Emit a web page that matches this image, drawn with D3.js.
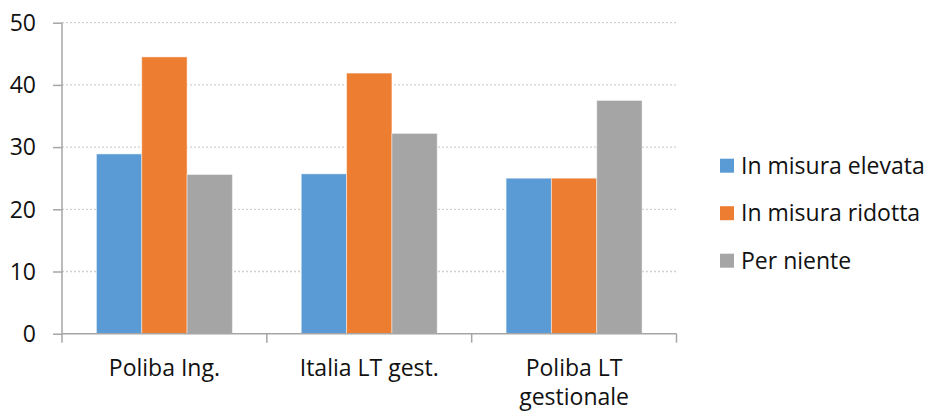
<!DOCTYPE html>
<html>
<head>
<meta charset="utf-8">
<script src="https://cdn.jsdelivr.net/npm/d3@7"></script>
<style>
  html, body { margin: 0; padding: 0; background: #fff; }
  svg text { font-family: "Open Sans", sans-serif; fill: #111; }
</style>
</head>
<body>
<svg id="chart" width="928" height="414"></svg>
<script>
// Categories (line breaks split the label over two lines)
const categories = ["Poliba Ing.", "Italia LT gest.", "Poliba LT\ngestionale"];
const seriesNames = ["In misura elevata", "In misura ridotta", "Per niente"];
const seriesColors = ["#5B9BD5", "#ED7D31", "#A5A5A5"];
// One array per series, in category order (%)
const elevata = [28.9, 25.7, 25.0];
const ridotta = [44.5, 41.9, 25.0];
const perNiente = [25.6, 32.2, 37.5];
const yTicks = [0, 10, 20, 30, 40, 50];

const series = [elevata, ridotta, perNiente];

const svg = d3.select("#chart");
const plot = { left: 62, right: 676.5, top: 22.7, bottom: 333.7 };
const fontSize = 23;

const x0 = d3.scaleBand().domain(categories).range([plot.left, plot.right]).padding(0);
const x1 = d3.scaleBand().domain(seriesNames).range([0, x0.bandwidth()])
  .paddingInner(0).paddingOuter(0.76);
const y = d3.scaleLinear().domain([0, 50]).range([plot.bottom, plot.top]);

// Horizontal gridlines
svg.append("g").selectAll("line").data(yTicks.filter(t => t > 0)).join("line")
  .attr("x1", plot.left).attr("x2", plot.right)
  .attr("y1", d => y(d)).attr("y2", d => y(d))
  .attr("stroke", "#d0d0d0").attr("stroke-width", 1.3)
  .attr("stroke-dasharray", "2,2");

// Bars
const groups = svg.append("g").selectAll("g").data(categories).join("g")
  .attr("transform", c => `translate(${x0(c)},0)`);
groups.selectAll("rect")
  .data((c, i) => seriesNames.map((s, j) => ({ s, j, v: series[j][i] })))
  .join("rect")
  .attr("x", d => x1(d.s))
  .attr("width", x1.bandwidth())
  .attr("y", d => y(d.v))
  .attr("height", d => y(0) - y(d.v))
  .attr("fill", d => seriesColors[d.j])
  .attr("stroke", "rgba(255,255,255,0.45)")
  .attr("stroke-width", 1);

// Y axis
const axisColor = "#a6a6a6";
const yAxis = svg.append("g").attr("transform", `translate(${plot.left},0)`)
  .call(d3.axisLeft(y).tickValues(yTicks).tickSize(9).tickPadding(17).tickFormat(d3.format("d")));
yAxis.select(".domain").attr("stroke", axisColor).attr("stroke-width", 1.5)
  .attr("d", `M0,${plot.top}V${plot.bottom}`);
yAxis.selectAll(".tick line").attr("stroke", axisColor).attr("stroke-width", 1.5);
yAxis.selectAll(".tick text").attr("font-size", fontSize).attr("fill", "#111")
  .attr("font-family", "'Open Sans', sans-serif").attr("dy", "0.34em");

// X axis line and category separators
const xg = svg.append("g");
xg.append("line").attr("x1", plot.left).attr("x2", plot.right)
  .attr("y1", plot.bottom).attr("y2", plot.bottom)
  .attr("stroke", axisColor).attr("stroke-width", 1.5);
const sepPositions = categories.map(c => x0(c)).concat([x0(categories[categories.length - 1]) + x0.bandwidth()]);
xg.selectAll("line.sep").data(sepPositions).join("line").attr("class", "sep")
  .attr("x1", d => d).attr("x2", d => d)
  .attr("y1", plot.bottom).attr("y2", plot.bottom + 9)
  .attr("stroke", axisColor).attr("stroke-width", 1.5);

// Category labels
const labels = xg.selectAll("text.cat").data(categories).join("text").attr("class", "cat")
  .attr("text-anchor", "middle").attr("font-size", fontSize)
  .attr("transform", c => `translate(${x0(c) + x0.bandwidth() / 2},376)`);
labels.selectAll("tspan").data(c => c.split("\n")).join("tspan")
  .attr("x", 0).attr("y", (d, i) => i * 29).text(d => d);

// Legend
const legend = svg.append("g").selectAll("g").data(seriesNames).join("g")
  .attr("transform", (d, i) => `translate(720,${165.7 + i * 47.5})`);
legend.append("rect").attr("x", 0).attr("y", -7).attr("width", 14).attr("height", 14)
  .attr("fill", (d, i) => seriesColors[i]);
legend.append("text").attr("x", 21).attr("dy", "0.36em").attr("font-size", fontSize).text(d => d);
</script>
</body>
</html>
